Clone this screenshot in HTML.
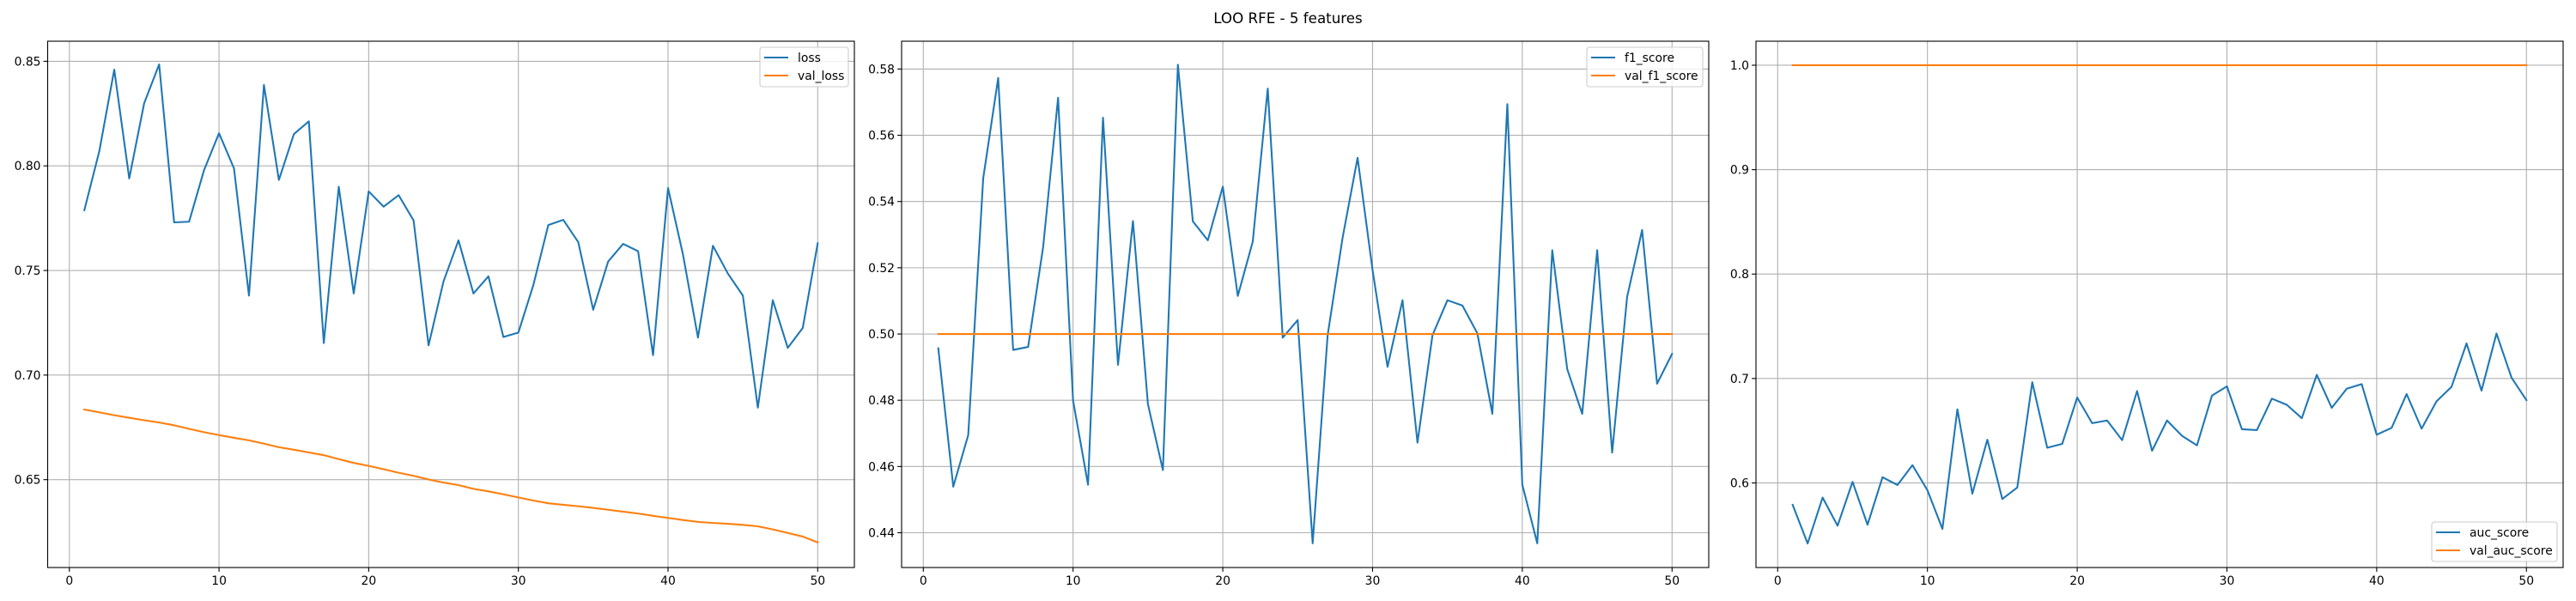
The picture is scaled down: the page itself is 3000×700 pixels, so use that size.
<!DOCTYPE html>
<html><head><meta charset="utf-8"><style>
html,body{margin:0;padding:0;background:#fff;}
svg{display:block;font-family:"DejaVu Sans","Liberation Sans",sans-serif;}
</style></head><body>
<svg id="fig" width="3000" height="700" viewBox="0 0 3000 700" xmlns="http://www.w3.org/2000/svg">
<rect width="3000" height="700" fill="#fff"/>
<text x="1500" y="27" text-anchor="middle" font-size="16.7" fill="#000">LOO RFE - 5 features</text>
</svg>
<script>
const epochs = Array.from({length:50},(_,i)=>i+1);
const lossVals = [0.7788,0.807,0.846,0.794,0.830,0.8485,0.773,0.7733,0.798,0.8156,0.7988,0.738,0.8387,0.7933,0.8152,0.8213,0.7153,0.790,0.739,0.7878,0.7805,0.786,0.7739,0.7142,0.7448,0.7644,0.739,0.7472,0.7182,0.7203,0.743,0.7717,0.7742,0.7636,0.7312,0.7543,0.7627,0.7592,0.7095,0.7894,0.7576,0.7179,0.7618,0.7485,0.738,0.6844,0.7358,0.713,0.7225,0.763];
const valLossVals = [0.6835,0.6822,0.6808,0.6796,0.6784,0.6773,0.6760,0.6743,0.6727,0.6713,0.6700,0.6688,0.6672,0.6655,0.6643,0.6630,0.6617,0.6598,0.6580,0.6566,0.6550,0.6533,0.6518,0.6501,0.6486,0.6474,0.6456,0.6444,0.6430,0.6415,0.6400,0.6387,0.6380,0.6373,0.6365,0.6356,0.6347,0.6338,0.6327,0.6317,0.6307,0.6298,0.6293,0.6289,0.6284,0.6277,0.6262,0.6245,0.6228,0.6200];
const f1Vals = [0.4957,0.4539,0.4695,0.547,0.5773,0.4952,0.4961,0.5262,0.5713,0.4799,0.4545,0.5653,0.4907,0.5341,0.4788,0.4589,0.5813,0.534,0.5283,0.5445,0.5115,0.5279,0.5741,0.4989,0.5042,0.4368,0.4996,0.5291,0.5532,0.5193,0.4901,0.5102,0.4672,0.4996,0.5102,0.5086,0.5002,0.4759,0.5694,0.4545,0.4368,0.5253,0.4894,0.4759,0.5253,0.4642,0.5112,0.5314,0.485,0.494];
const valF1Vals = Array(50).fill(0.5);
const aucVals = [0.579,0.542,0.586,0.559,0.601,0.560,0.6055,0.598,0.617,0.593,0.556,0.6705,0.5897,0.6414,0.5846,0.5956,0.6965,0.6337,0.6374,0.6818,0.6572,0.6598,0.641,0.688,0.6308,0.6598,0.6451,0.636,0.6836,0.6925,0.6514,0.6506,0.6807,0.6748,0.662,0.7035,0.6719,0.6902,0.6946,0.6462,0.6528,0.6851,0.652,0.6782,0.6921,0.7336,0.6884,0.7431,0.701,0.6793];
const valAucVals = Array(50).fill(1.0);
const xTicks = [0,10,20,30,40,50];
const yTicks1 = [0.65,0.70,0.75,0.80,0.85];
const yTicks2 = [0.44,0.46,0.48,0.50,0.52,0.54,0.56,0.58];
const yTicks3 = [0.6,0.7,0.8,0.9,1.0];

const NS="http://www.w3.org/2000/svg";
const svg=document.getElementById('fig');
function mk(tag,attrs,parent){const e=document.createElementNS(NS,tag);for(const k in attrs)e.setAttribute(k,attrs[k]);(parent||svg).appendChild(e);return e;}

function panel(cfg){
  const {L,R,T,B,xmin,xmax,ymin,ymax,yTicks,yDec,s1,s2,n1,n2,legend,key}=cfg;
  const g=mk('g',{});
  
  
  const sx=v=>L+(v-xmin)/(xmax-xmin)*(R-L);
  const sy=v=>B-(v-ymin)/(ymax-ymin)*(B-T);
  xTicks.forEach(t=>{
    const x=sx(t);
    const gl=mk('line',{x1:x,x2:x,y1:T,y2:B,stroke:'#b0b0b0','stroke-width':1.1},g);
    
    
    mk('line',{x1:x,x2:x,y1:B,y2:B+4.9,stroke:'#000','stroke-width':1.1},g);
    const tx=mk('text',{x:x,y:B+20,'text-anchor':'middle','font-size':13.9,fill:'#000'},g);
    tx.textContent=t;
    
    
  });
  yTicks.forEach(t=>{
    const y=sy(t);
    const gl=mk('line',{x1:L,x2:R,y1:y,y2:y,stroke:'#b0b0b0','stroke-width':1.1},g);
    
    
    mk('line',{x1:L-4.9,x2:L,y1:y,y2:y,stroke:'#000','stroke-width':1.1},g);
    const tx=mk('text',{x:L-8,y:y+5,'text-anchor':'end','font-size':13.9,fill:'#000'},g);
    tx.textContent=t.toFixed(yDec);
    
    
  });
  [[s1,'#1f77b4',n1],[s2,'#ff7f0e',n2]].forEach(([s,c,n])=>{
    const p=mk('polyline',{points:epochs.map((e,i)=>sx(e)+','+sy(s[i])).join(' '),fill:'none',stroke:c,'stroke-width':2.08,'stroke-linejoin':'round','stroke-linecap':'square'},g);
    
    
  });
  const fr=mk('rect',{x:L,y:T,width:R-L,height:B-T,fill:'none',stroke:'#000','stroke-width':1.1},g);
  
  
  const lg=mk('g',{},g);
  
  
  mk('rect',{x:legend.x,y:legend.y,width:legend.w,height:46,rx:3,fill:'#fff','fill-opacity':0.8,stroke:'#cccccc','stroke-width':1.1},lg);
  [[n1,'#1f77b4'],[n2,'#ff7f0e']].forEach(([n,c],i)=>{
    const yy=legend.y+12+i*21;
    mk('line',{x1:legend.x+5,x2:legend.x+33,y1:yy,y2:yy,stroke:c,'stroke-width':2.08},lg);
    const tx=mk('text',{x:legend.x+44,y:yy+5,'font-size':13.9,fill:'#000'},lg);
    tx.textContent=n;
    
    
  });
}
panel({key:'loss',L:55.5,R:995,T:48,B:661,xmin:-1.45,xmax:52.45,ymin:0.608,ymax:0.8596,yTicks:yTicks1,yDec:2,s1:lossVals,s2:valLossVals,n1:'loss',n2:'val_loss',legend:{x:885,y:55,w:103}});
panel({key:'f1',L:1050,R:1990,T:48,B:661,xmin:-1.45,xmax:52.45,ymin:0.4295,ymax:0.5884,yTicks:yTicks2,yDec:2,s1:f1Vals,s2:valF1Vals,n1:'f1_score',n2:'val_f1_score',legend:{x:1848,y:55,w:135}});
panel({key:'auc',L:2045,R:2985,T:48,B:661,xmin:-1.45,xmax:52.45,ymin:0.519,ymax:1.023,yTicks:yTicks3,yDec:1,s1:aucVals,s2:valAucVals,n1:'auc_score',n2:'val_auc_score',legend:{x:2832,y:608,w:146}});
</script>
</body></html>
